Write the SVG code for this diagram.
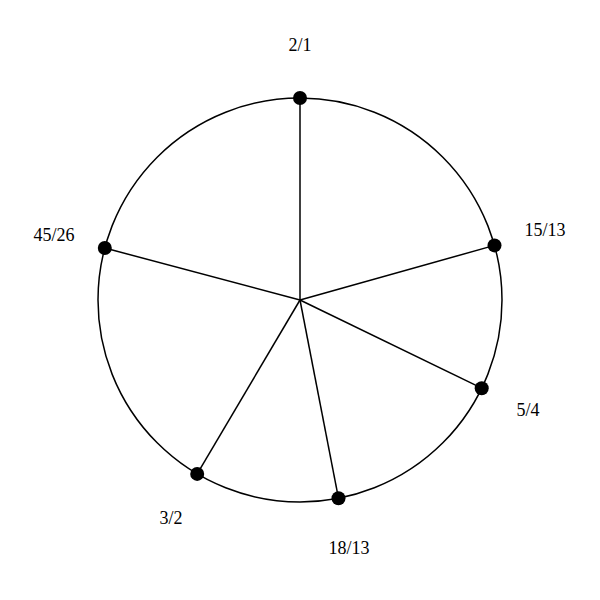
<svg xmlns="http://www.w3.org/2000/svg" width="600" height="600" viewBox="0 0 600 600">
<style>
.ln{stroke:#000;stroke-width:1.5;fill:none}
.dot{fill:#000}
.lb{font-family:"Liberation Serif","Times New Roman",serif;font-size:18px;fill:#000;text-anchor:middle}
</style>
<rect width="600" height="600" fill="#fff"/>
<circle cx="300" cy="300" r="202" class="ln"/>
<g id="connectors">
<line class="ln" x1="300" y1="300" x2="300" y2="98"/>
<line class="ln" x1="300" y1="300" x2="494.5" y2="245.4"/>
<line class="ln" x1="300" y1="300" x2="481.7" y2="388.2"/>
<line class="ln" x1="300" y1="300" x2="338.5" y2="498.3"/>
<line class="ln" x1="300" y1="300" x2="197.2" y2="473.9"/>
<line class="ln" x1="300" y1="300" x2="104.8" y2="248"/>
</g>
<g id="n-2-1"><circle class="dot" cx="300" cy="98" r="7"/><text class="lb" x="300" y="51">2/1</text></g>
<g id="n-15-13"><circle class="dot" cx="494.5" cy="245.4" r="7"/><text class="lb" x="545" y="236">15/13</text></g>
<g id="n-5-4"><circle class="dot" cx="481.7" cy="388.2" r="7"/><text class="lb" x="528" y="416">5/4</text></g>
<g id="n-18-13"><circle class="dot" cx="338.5" cy="498.3" r="7"/><text class="lb" x="349" y="554">18/13</text></g>
<g id="n-3-2"><circle class="dot" cx="197.2" cy="473.9" r="7"/><text class="lb" x="171" y="524">3/2</text></g>
<g id="n-45-26"><circle class="dot" cx="104.8" cy="248" r="7"/><text class="lb" x="54" y="241">45/26</text></g>
</svg>
